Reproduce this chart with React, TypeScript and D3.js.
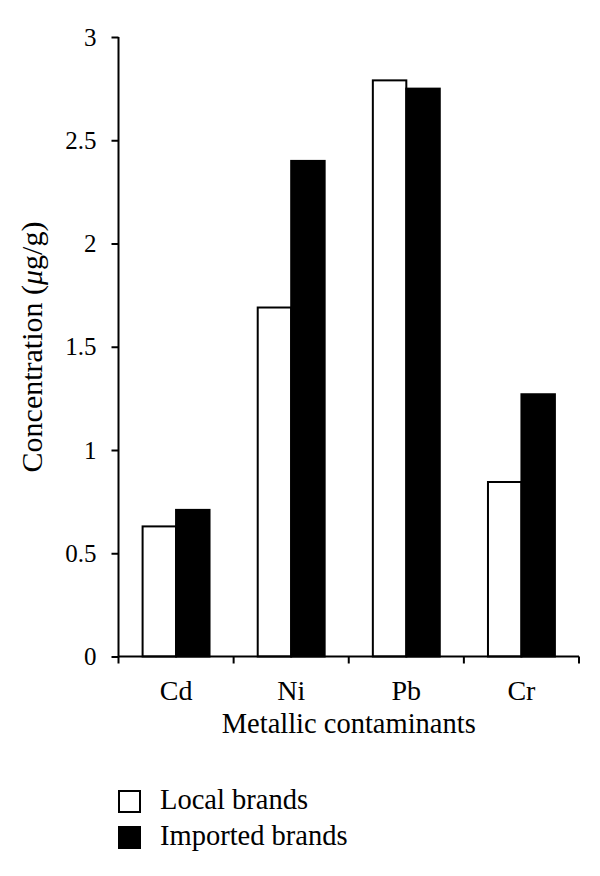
import React, {useEffect, useRef} from 'react'
import * as d3 from 'd3'

// data
const metals = ['Cd', 'Ni', 'Pb', 'Cr']
const seriesNames = ['Local brands', 'Imported brands']
const localValues = [0.63, 1.69, 2.79, 0.845]
const importedValues = [0.71, 2.4, 2.75, 1.27]
const yTicks = [0, 0.5, 1, 1.5, 2, 2.5, 3]
const seriesFill = ['#ffffff', '#000000']

const W = 600
const H = 876
const FONT = '"Liberation Serif", "Times New Roman", serif'

const App = () => {
	const ref = useRef<SVGSVGElement>(null)

	useEffect(() => {
		const svg = d3.select(ref.current)
		svg.selectAll('*').remove()

		const left = 118.5, right = 579, top = 37, bottom = 656.5

		const x0 = d3.scaleBand().domain(metals).range([left, right]).paddingInner(0).paddingOuter(0)
		const x1 = d3.scaleBand().domain(seriesNames).range([0, x0.bandwidth()]).paddingInner(0).paddingOuter(0.72)
		const y = d3.scaleLinear().domain([0, 3]).range([bottom, top])

		const rows = metals.map((m, i) => ({metal: m, values: [localValues[i], importedValues[i]]}))

		// bars
		const groups = svg.append('g').selectAll('g')
			.data(rows)
			.enter()
			.append('g')
			.attr('transform', d => `translate(${x0(d.metal)},0)`)

		groups.selectAll('rect')
			.data(d => d.values.map((v, j) => ({name: seriesNames[j], value: v, j})))
			.enter()
			.append('rect')
			.attr('x', d => x1(d.name)!)
			.attr('y', d => y(d.value))
			.attr('width', x1.bandwidth())
			.attr('height', d => bottom - y(d.value))
			.attr('fill', d => seriesFill[d.j])
			.attr('stroke', '#000')
			.attr('stroke-width', 2)

		// y axis
		const yAxis = svg.append('g')
			.attr('transform', `translate(${left},0)`)
			.call(d3.axisLeft(y).tickValues(yTicks).tickFormat(d => String(d)).tickSizeOuter(0).tickSize(7).tickPadding(15))
		yAxis.select('.domain').attr('stroke-width', 2).attr('d', `M0,${top}V${bottom}`)
		yAxis.selectAll('.tick line').attr('stroke-width', 2)
		yAxis.selectAll('text').attr('font-family', FONT).attr('font-size', 25).attr('fill', '#000')

		// x axis: ticks at category boundaries
		const boundaries = metals.map(m => x0(m)!).concat([right])
		svg.append('line')
			.attr('x1', left).attr('x2', right)
			.attr('y1', bottom).attr('y2', bottom)
			.attr('stroke', '#000').attr('stroke-width', 2)
		svg.append('g').selectAll('line')
			.data(boundaries)
			.enter()
			.append('line')
			.attr('x1', d => d).attr('x2', d => d)
			.attr('y1', bottom).attr('y2', bottom + 7)
			.attr('stroke', '#000').attr('stroke-width', 2)

		svg.append('g').selectAll('text')
			.data(metals)
			.enter()
			.append('text')
			.attr('x', d => x0(d)! + x0.bandwidth() / 2)
			.attr('y', 700)
			.attr('text-anchor', 'middle')
			.attr('font-family', FONT)
			.attr('font-size', 28)
			.text(d => d)

		svg.append('text')
			.attr('x', (left + right) / 2)
			.attr('y', 733)
			.attr('text-anchor', 'middle')
			.attr('font-family', FONT)
			.attr('font-size', 28.5)
			.text('Metallic contaminants')

		const yTitle = svg.append('text')
			.attr('transform', `translate(42,347) rotate(-90)`)
			.attr('text-anchor', 'middle')
			.attr('font-family', FONT)
			.attr('font-size', 30)
		yTitle.append('tspan').text('Concentration (')
		yTitle.append('tspan').attr('font-style', 'italic').text('μ')
		yTitle.append('tspan').text('g/g)')

		// legend
		const legend = svg.append('g').selectAll('g')
			.data(seriesNames)
			.enter()
			.append('g')
			.attr('transform', (d, i) => `translate(119,${791 + i * 36})`)
		legend.append('rect')
			.attr('width', 21).attr('height', 21)
			.attr('fill', (d, i) => seriesFill[i])
			.attr('stroke', '#000').attr('stroke-width', 2)
		legend.append('text')
			.attr('x', 41).attr('y', 18)
			.attr('font-family', FONT)
			.attr('font-size', 28.5)
			.text(d => d)
	}, [])

	return (
		<svg ref={ref} width={W} height={H} style={{position: 'absolute', left: 0, top: 0, background: '#fff'}} />
	)
}

export default App
